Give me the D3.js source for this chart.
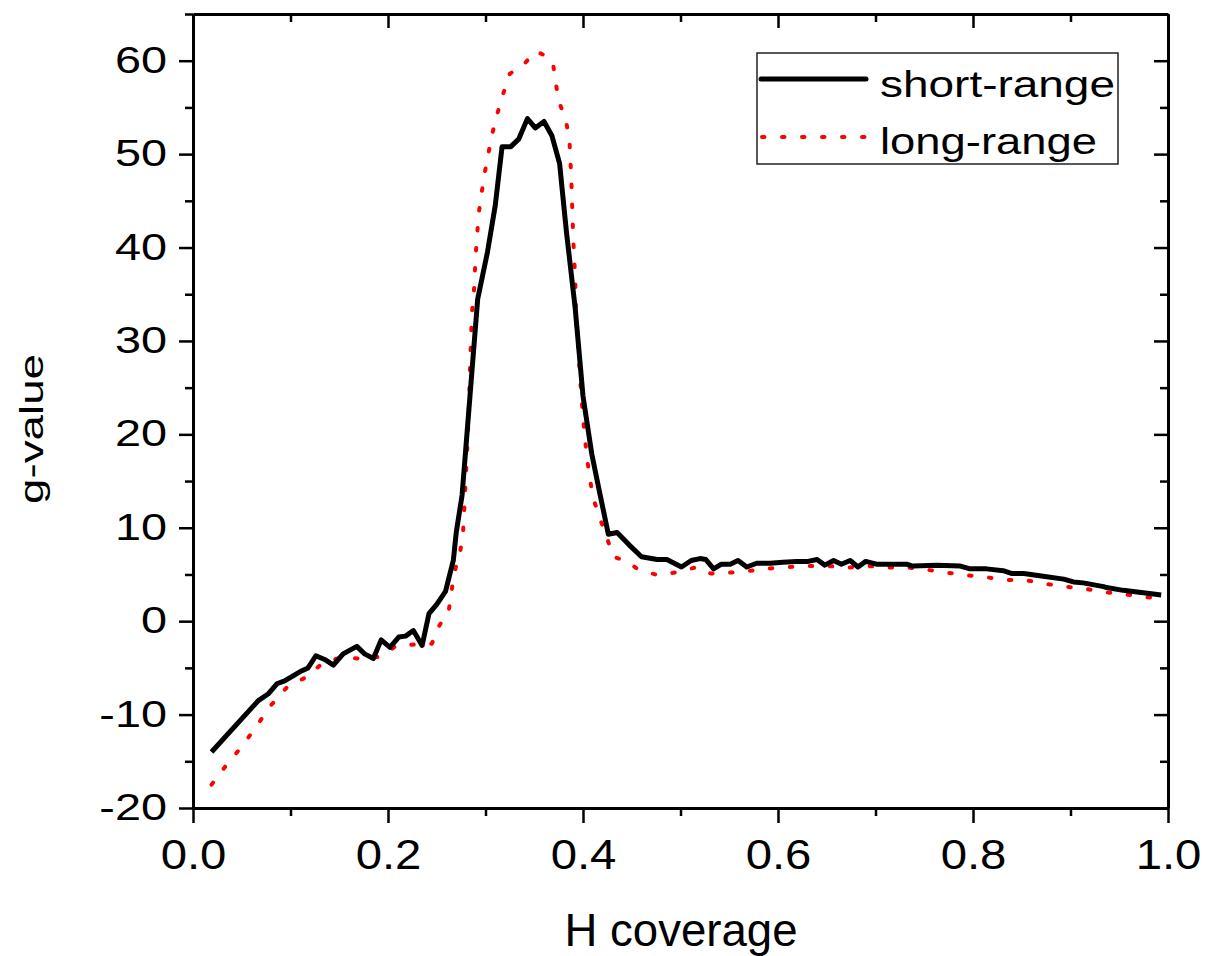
<!DOCTYPE html>
<html>
<head>
<meta charset="utf-8">
<script src="https://cdn.jsdelivr.net/npm/d3@7"></script>
<style>
  body { margin: 0; background: #fff; }
  svg { display: block; font-family: "Liberation Sans", Arial, sans-serif; }
</style>
</head>
<body>
<svg id="canvas"></svg>
<script>
// short-range curve (solid black)
let xShort = [0.019,0.067,0.077,0.086,0.094,0.110,0.118,0.126,0.135,0.144,0.154,0.168,0.176,0.185,0.193,0.202,0.211,0.218,0.226,0.235,0.242,0.250,0.259,0.267,0.270,0.276,0.284,0.292,0.302,0.310,0.317,0.326,0.334,0.343,0.351,0.360,0.368,0.376,0.383,0.392,0.400,0.409,0.417,0.426,0.435,0.447,0.460,0.476,0.486,0.501,0.511,0.520,0.526,0.534,0.542,0.551,0.559,0.568,0.578,0.592,0.605,0.619,0.631,0.640,0.648,0.657,0.665,0.674,0.682,0.690,0.701,0.732,0.738,0.763,0.787,0.797,0.814,0.831,0.840,0.852,0.872,0.893,0.903,0.913,0.934,0.937,0.954,0.985,0.993];
let gShort = [-14.0,-8.5,-7.8,-6.7,-6.4,-5.4,-5.0,-3.7,-4.1,-4.7,-3.5,-2.7,-3.5,-4.0,-2.0,-2.8,-1.7,-1.6,-1.0,-2.6,0.8,1.8,3.2,6.5,9.5,13.5,24.0,34.5,39.5,44.5,50.8,50.8,51.6,53.8,52.8,53.5,52.0,49.0,41.7,33.5,24.1,17.9,13.8,9.3,9.5,8.2,6.9,6.6,6.6,5.8,6.5,6.7,6.6,5.6,6.1,6.1,6.5,5.8,6.2,6.2,6.3,6.4,6.4,6.6,6.0,6.5,6.1,6.5,5.8,6.4,6.1,6.1,5.9,6.0,5.9,5.6,5.6,5.4,5.1,5.1,4.8,4.5,4.2,4.1,3.7,3.6,3.3,2.9,2.8];

// long-range curve (red dotted)
let xLong = [0.019,0.035,0.051,0.066,0.080,0.097,0.116,0.134,0.152,0.172,0.193,0.209,0.227,0.245,0.253,0.262,0.265,0.268,0.274,0.277,0.278,0.282,0.286,0.288,0.290,0.293,0.296,0.299,0.303,0.307,0.312,0.318,0.325,0.338,0.352,0.362,0.369,0.372,0.375,0.382,0.386,0.388,0.390,0.392,0.393,0.397,0.400,0.404,0.410,0.417,0.424,0.431,0.445,0.457,0.478,0.499,0.517,0.531,0.551,0.572,0.592,0.612,0.632,0.652,0.673,0.693,0.712,0.733,0.753,0.773,0.794,0.814,0.834,0.854,0.874,0.894,0.914,0.934,0.954,0.975,0.985];
let gLong = [-17.5,-15.3,-13.3,-11.1,-9.0,-7.0,-6.0,-4.4,-3.9,-4.0,-3.8,-2.6,-2.5,-2.4,-0.4,0.9,3.1,5.2,7.4,9.5,11.6,20.0,32.9,35.0,39.3,43.6,45.8,47.9,50.1,52.2,54.3,56.4,58.6,59.5,61.0,60.5,59.9,57.7,55.7,53.8,51.7,47.4,40.9,36.7,32.5,26.1,21.8,17.5,13.3,11.1,9.1,6.9,6.4,5.5,4.9,5.3,5.8,5.1,5.2,5.4,5.65,5.8,5.9,5.9,5.75,5.9,5.75,5.75,5.5,5.2,4.9,4.7,4.4,4.4,4.0,3.7,3.5,3.1,2.9,2.6,2.5];

let xMajor = [0, 0.2, 0.4, 0.6, 0.8, 1.0];
let xMinor = [0.1, 0.3, 0.5, 0.7, 0.9];
let yMajor = [-20, -10, 0, 10, 20, 30, 40, 50, 60];
let yMinor = [-15, -5, 5, 15, 25, 35, 45, 55, 65];
let seriesNames = ['short-range', 'long-range'];

let width = 1205;
let height = 956;
let plotLeft = 193, plotRight = 1168, plotTop = 14, plotBottom = 808;

let svg = d3.select('#canvas').attr('width', width).attr('height', height);

let xScale = d3.scaleLinear().domain([0, 1]).range([plotLeft, plotRight]);
let yScale = d3.scaleLinear().domain([-20, 65]).range([plotBottom, plotTop]);

let styleAxis = (g, w) => {
  g.selectAll('line').attr('stroke', '#000').attr('stroke-width', 2.5);
  g.select('.domain').attr('stroke', '#000').attr('stroke-width', w);
}

// bottom
let gb = svg.append('g').attr('transform', 'translate(0,' + plotBottom + ')')
  .call(d3.axisBottom(xScale).tickValues(xMajor).tickSize(15).tickSizeOuter(0).tickFormat(d3.format('.1f')));
styleAxis(gb, 3);
gb.selectAll('text').attr('font-size', 43).attr('fill', '#000').attr('font-family', 'Liberation Sans, Arial, sans-serif')
  .attr('y', 30).attr('transform', 'scale(1.1,1)');
let gbm = svg.append('g').attr('transform', 'translate(0,' + plotBottom + ')')
  .call(d3.axisBottom(xScale).tickValues(xMinor).tickSize(8).tickFormat(''));
gbm.select('.domain').remove();
styleAxis(gbm, 0);

// left
let gl = svg.append('g').attr('transform', 'translate(' + plotLeft + ',0)')
  .call(d3.axisLeft(yScale).tickValues(yMajor).tickSize(14).tickSizeOuter(0).tickFormat(d => String(d)));
styleAxis(gl, 3);
gl.selectAll('text').attr('font-size', 36).attr('fill', '#000').attr('font-family', 'Liberation Sans, Arial, sans-serif')
  .attr('x', -20).attr('transform', 'scale(1.3,1)');
let glm = svg.append('g').attr('transform', 'translate(' + plotLeft + ',0)')
  .call(d3.axisLeft(yScale).tickValues(yMinor).tickSize(8).tickFormat(''));
glm.select('.domain').remove();
styleAxis(glm, 0);

// top (inward ticks)
let gt = svg.append('g').attr('transform', 'translate(0,' + plotTop + ')')
  .call(d3.axisTop(xScale).tickValues(xMajor).tickSize(-14).tickSizeOuter(0).tickFormat(''));
styleAxis(gt, 3);
let gtm = svg.append('g').attr('transform', 'translate(0,' + plotTop + ')')
  .call(d3.axisTop(xScale).tickValues(xMinor).tickSize(-8).tickFormat(''));
gtm.select('.domain').remove();
styleAxis(gtm, 0);

// right (inward ticks)
let gr = svg.append('g').attr('transform', 'translate(' + plotRight + ',0)')
  .call(d3.axisRight(yScale).tickValues(yMajor).tickSize(-14).tickSizeOuter(0).tickFormat(''));
styleAxis(gr, 3);
let grm = svg.append('g').attr('transform', 'translate(' + plotRight + ',0)')
  .call(d3.axisRight(yScale).tickValues(yMinor).tickSize(-8).tickFormat(''));
grm.select('.domain').remove();
styleAxis(grm, 0);

// curves
let line = d3.line().x(d => xScale(d[0])).y(d => yScale(d[1]));

svg.append('path')
  .datum(xLong.map((v, i) => [v, gLong[i]]))
  .attr('d', line)
  .attr('fill', 'none')
  .attr('stroke', '#ff0000')
  .attr('stroke-width', 4)
  .attr('stroke-linecap', 'round')
  .attr('stroke-dasharray', '2.5,17.5');

svg.append('path')
  .datum(xShort.map((v, i) => [v, gShort[i]]))
  .attr('d', line)
  .attr('fill', 'none')
  .attr('stroke', '#000')
  .attr('stroke-width', 5)
  .attr('stroke-linejoin', 'round');

// axis titles
svg.append('text')
  .attr('x', 681).attr('y', 946)
  .attr('text-anchor', 'middle')
  .attr('font-size', 46)
  .attr('textLength', 233).attr('lengthAdjust', 'spacingAndGlyphs')
  .text('H coverage');

svg.append('text')
  .attr('transform', 'translate(43,429) rotate(-90)')
  .attr('text-anchor', 'middle')
  .attr('font-size', 33)
  .attr('textLength', 150).attr('lengthAdjust', 'spacingAndGlyphs')
  .text('g-value');

// legend
let legend = svg.append('g');
legend.append('rect')
  .attr('x', 757).attr('y', 53).attr('width', 361).attr('height', 111)
  .attr('fill', '#fff').attr('stroke', '#222').attr('stroke-width', 1.5);
legend.append('line')
  .attr('x1', 761).attr('x2', 866).attr('y1', 79).attr('y2', 79)
  .attr('stroke', '#000').attr('stroke-width', 5).attr('stroke-linecap', 'round');
legend.append('line')
  .attr('x1', 762).attr('x2', 866).attr('y1', 137).attr('y2', 137)
  .attr('stroke', '#ff0000').attr('stroke-width', 4).attr('stroke-linecap', 'round')
  .attr('stroke-dasharray', '2.5,17.5');
legend.append('text')
  .attr('x', 880).attr('y', 97).attr('font-size', 36)
  .attr('textLength', 235).attr('lengthAdjust', 'spacingAndGlyphs')
  .text(seriesNames[0]);
legend.append('text')
  .attr('x', 880).attr('y', 154).attr('font-size', 36)
  .attr('textLength', 217).attr('lengthAdjust', 'spacingAndGlyphs')
  .text(seriesNames[1]);
</script>
</body>
</html>
